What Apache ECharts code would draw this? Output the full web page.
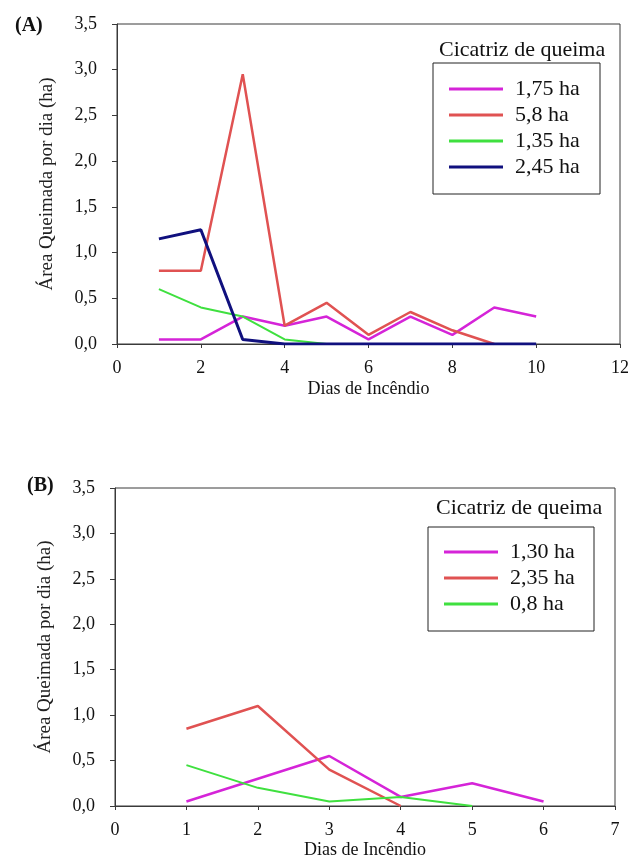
<!DOCTYPE html>
<html lang="pt">
<head>
    <meta charset="UTF-8">
    <title>Área Queimada por dia</title>
    <style>
        html, body {
            margin: 0;
            padding: 0;
            background: #ffffff;
        }
        #main {
            width: 633px;
            height: 862px;
        }
    </style>
    <script type="text/javascript" src="https://cdn.jsdelivr.net/npm/echarts@6/dist/echarts.min.js"></script>
</head>
<body>
<div id="main"></div>
<script type="text/javascript">
    // (A) dias 1..10
    var diasA = [1, 2, 3, 4, 5, 6, 7, 8, 9, 10];
    var a175 = [0.05, 0.05, 0.3, 0.2, 0.3, 0.05, 0.3, 0.1, 0.4, 0.3];
    var a58 = [0.8, 0.8, 2.95, 0.2, 0.45, 0.1, 0.35, 0.15, 0];
    var a135 = [0.6, 0.4, 0.3, 0.05, 0];
    var a245 = [1.15, 1.25, 0.05, 0, 0, 0, 0, 0, 0, 0];
    var nomesA = ['1,75 ha', '5,8 ha', '1,35 ha', '2,45 ha'];

    // (B) dias 1..6
    var diasB = [1, 2, 3, 4, 5, 6];
    var b130 = [0.05, 0.3, 0.55, 0.1, 0.25, 0.05];
    var b235 = [0.85, 1.1, 0.4, 0];
    var b08 = [0.45, 0.2, 0.05, 0.1, 0];
    var nomesB = ['1,30 ha', '2,35 ha', '0,8 ha'];

    var cores = ['#d524d8', '#e05252', '#3fe03f', '#10107e'];
    var serif = 'Liberation Serif';
    var eixo = '#3a3a3a';

    function pares(dias, vals) {
        var out = [];
        for (var i = 0; i < vals.length; i++) out.push([dias[i], vals[i]]);
        return out;
    }
    function virgula(v) {
        return v.toFixed(1).replace('.', ',');
    }

    function eixoX(idx, max, gap, margin) {
        return {
            gridIndex: idx, type: 'value', min: 0, max: max, interval: max > 8 ? 2 : 1,
            name: 'Dias de Incêndio', nameLocation: 'middle', nameGap: gap,
            nameTextStyle: {fontFamily: serif, fontSize: 18, color: '#111'},
            splitLine: {show: false},
            axisLine: {lineStyle: {color: eixo, width: 1}},
            axisTick: {inside: false, length: 4, lineStyle: {color: eixo}},
            axisLabel: {fontFamily: serif, fontSize: 18, color: '#111', margin: margin}
        };
    }
    function eixoY(idx) {
        return {
            gridIndex: idx, type: 'value', min: 0, max: 3.5, interval: 0.5,
            name: 'Área Queimada por dia (ha)', nameLocation: 'middle', nameGap: 60, nameRotate: 90,
            nameTextStyle: {fontFamily: serif, fontSize: 19, color: '#222'},
            splitLine: {show: false},
            axisLine: {lineStyle: {color: eixo, width: 1}},
            axisTick: {inside: false, length: 5, lineStyle: {color: eixo}},
            axisLabel: {fontFamily: serif, fontSize: 18, color: '#111', margin: 20, formatter: virgula}
        };
    }
    function linha(nome, xi, dados, cor, w) {
        return {
            name: nome, type: 'line', xAxisIndex: xi, yAxisIndex: xi,
            data: dados, symbol: 'none', animation: false,
            lineStyle: {color: cor, width: w}, itemStyle: {color: cor}
        };
    }
    function legenda(nomes, left, top) {
        return {
            data: nomes, orient: 'vertical', left: left, top: top,
            icon: 'rect', itemWidth: 54, itemHeight: 3, itemGap: 4,
            padding: 0,
            textStyle: {fontFamily: serif, fontSize: 22, lineHeight: 22, color: '#111', padding: [0, 0, 0, 7]}
        };
    }

    var chart = echarts.init(document.getElementById('main'));
    chart.setOption({
        backgroundColor: '#ffffff',
        animation: false,
        title: [
            {text: '(A)', left: 10, top: 11, textStyle: {fontFamily: serif, fontSize: 20, fontWeight: 'bold', color: '#111'}},
            {text: '(B)', left: 22, top: 471, textStyle: {fontFamily: serif, fontSize: 20, fontWeight: 'bold', color: '#111'}},
            {text: 'Cicatriz de queima', left: 434, top: 34, textStyle: {fontFamily: serif, fontSize: 22, fontWeight: 'normal', color: '#111'}},
            {text: 'Cicatriz de queima', left: 431, top: 492, textStyle: {fontFamily: serif, fontSize: 22, fontWeight: 'normal', color: '#111'}}
        ],
        grid: [
            {left: 117, right: 13, top: 24, bottom: 518, show: true, borderColor: eixo, borderWidth: 1, containLabel: false},
            {left: 115, right: 18, top: 488, bottom: 56, show: true, borderColor: eixo, borderWidth: 1, containLabel: false}
        ],
        xAxis: [eixoX(0, 12, 36, 15), eixoX(1, 7, 35, 15)],
        yAxis: [eixoY(0), eixoY(1)],
        legend: [legenda(nomesA, 449, 78), legenda(nomesB, 444, 541)],
        graphic: [
            {type: 'rect', shape: {x: 433, y: 63, width: 167, height: 131}, style: {fill: 'none', stroke: '#222', lineWidth: 1}},
            {type: 'rect', shape: {x: 428, y: 527, width: 166, height: 104}, style: {fill: 'none', stroke: '#222', lineWidth: 1}}
        ],
        series: [
            linha(nomesA[0], 0, pares(diasA, a175), cores[0], 2.5),
            linha(nomesA[1], 0, pares(diasA, a58), cores[1], 2.5),
            linha(nomesA[2], 0, pares(diasA, a135), cores[2], 2),
            linha(nomesA[3], 0, pares(diasA, a245), cores[3], 3),
            linha(nomesB[0], 1, pares(diasB, b130), cores[0], 2.5),
            linha(nomesB[1], 1, pares(diasB, b235), cores[1], 2.5),
            linha(nomesB[2], 1, pares(diasB, b08), cores[2], 2)
        ]
    });
</script>
</body>
</html>
